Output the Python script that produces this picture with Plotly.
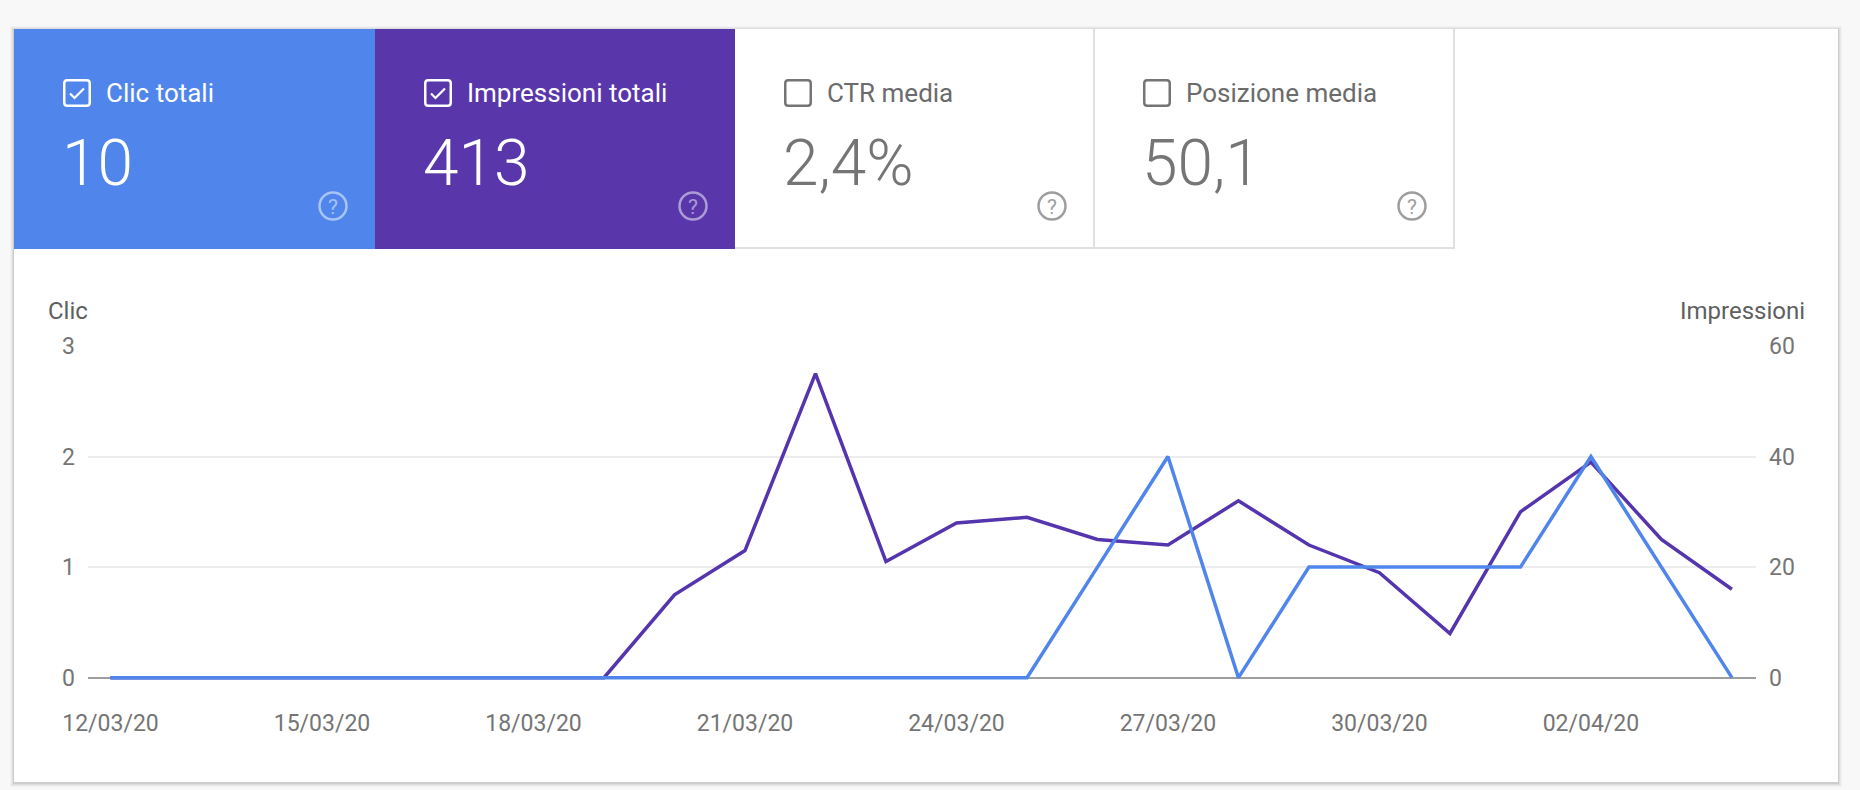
import plotly.graph_objects as go

# daily data, 12/03/20 .. 04/04/20
dates = ["2020-03-12", "2020-03-13", "2020-03-14", "2020-03-15", "2020-03-16",
         "2020-03-17", "2020-03-18", "2020-03-19", "2020-03-20", "2020-03-21",
         "2020-03-22", "2020-03-23", "2020-03-24", "2020-03-25", "2020-03-26",
         "2020-03-27", "2020-03-28", "2020-03-29", "2020-03-30", "2020-03-31",
         "2020-04-01", "2020-04-02", "2020-04-03", "2020-04-04"]
clicks = [0, 0, 0, 0, 0, 0, 0, 0, 0, 0, 0, 0, 0, 0,
          1, 2, 0, 1, 1, 1, 1, 2, 1, 0]
impressions = [0, 0, 0, 0, 0, 0, 0, 0,
               15, 23, 55, 21, 28, 29, 25, 24, 32, 24, 19, 8, 30, 39, 25, 16]

clic_ticks = [0, 1, 2, 3]
impr_ticks = [0, 20, 40, 60]

tab_labels = ["Clic totali", "Impressioni totali", "CTR media", "Posizione media"]
tab_values = ["10", "413", "2,4%", "50,1"]
tab_checked = [True, True, False, False]

BLUE = "#5086ec"
PURPLE = "#5937aa"
PURPLE_LINE = "#5535ad"
tab_colors = [BLUE, PURPLE, "white", "white"]

W, H = 1860, 790
L, R, T, B = 88, 104, 346, 109


def px(x):
    return (x - L) / (W - L - R)


def py(y):
    return (H - B - y) / (H - T - B)


def rect(x0, y0, x1, y1, fill, line=None, lw=0):
    return dict(type="rect", xref="paper", yref="paper", layer="below",
                x0=px(x0), x1=px(x1), y0=py(y1), y1=py(y0),
                fillcolor=fill, line=dict(color=line or fill, width=lw))


def seg(x0, y0, x1, y1, color, lw):
    return dict(type="line", xref="paper", yref="paper", layer="below",
                x0=px(x0), x1=px(x1), y0=py(y0), y1=py(y1),
                line=dict(color=color, width=lw))


def path(points, color, lw):
    d = ""
    for cmd, pts in points:
        d += cmd + " " + " ".join("%.5f,%.5f" % (px(a), py(b)) for a, b in pts) + " "
    return dict(type="path", xref="paper", yref="paper", layer="below",
                path=d.strip(), line=dict(color=color, width=lw))


def checkbox(left, top, color, checked):
    s, r, k = 28, 3, 1.25
    x0, y0, x1, y1 = left + k, top + k, left + s - k, top + s - k
    out = [path([("M", [(x0 + r, y0)]), ("L", [(x1 - r, y0)]),
                 ("Q", [(x1, y0), (x1, y0 + r)]), ("L", [(x1, y1 - r)]),
                 ("Q", [(x1, y1), (x1 - r, y1)]), ("L", [(x0 + r, y1)]),
                 ("Q", [(x0, y1), (x0, y1 - r)]), ("L", [(x0, y0 + r)]),
                 ("Q", [(x0, y0), (x0 + r, y0)]), ("Z", [])], color, 2.5)]
    if checked:
        out.append(path([("M", [(left + 7, top + 14.5)]),
                         ("L", [(left + 11.5, top + 19)]),
                         ("L", [(left + 21, top + 9.5)])], color, 2.2))
    return out


shapes = []
# card shadow and card
for grow, alpha in [(4, 0.025), (3, 0.035), (2, 0.05), (1, 0.07)]:
    shapes.append(rect(14 - grow, 29 - grow + 1, 1838 + grow, 782 + grow + 1,
                       "rgba(0,0,0,%.3f)" % alpha))
shapes.append(rect(14, 29, 1838, 782, "white"))

annotations = []
tab_left = [14, 375, 735, 1094]
tab_right = [375, 735, 1094, 1454]
for i in range(4):
    x0, x1 = tab_left[i], tab_right[i]
    colored = tab_colors[i] != "white"
    if colored:
        shapes.append(rect(x0, 29, x1, 249, tab_colors[i]))
        fg, val_c, icon_c = "white", "white", "rgba(255,255,255,0.5)"
    else:
        shapes.append(seg(x0, 248, x1, 248, "#e0e0e0", 2))
        shapes.append(seg(x1, 29, x1, 249, "#e0e0e0", 2))
        fg, val_c, icon_c = "#6b6b6b", "#757575", "#9e9e9e"
    shapes += checkbox(x0 + 49, 79, fg if colored else "#757575", tab_checked[i])
    annotations.append(dict(x=px(x0 + 90), y=py(93), xref="paper", yref="paper",
                            text=tab_labels[i], showarrow=False, xanchor="left",
                            yanchor="middle",
                            font=dict(family="Roboto", size=26, color=fg)))
    annotations.append(dict(x=px(x0 + 46), y=py(164), xref="paper", yref="paper",
                            text=tab_values[i], showarrow=False, xanchor="left",
                            yanchor="middle",
                            font=dict(family="Roboto", size=64, color=val_c,
                                      weight=300)))
    cx, cy, rr = x1 - 42, 206, 13.5
    shapes.append(dict(type="circle", xref="paper", yref="paper", layer="below",
                       x0=px(cx - rr), x1=px(cx + rr), y0=py(cy + rr), y1=py(cy - rr),
                       line=dict(color=icon_c, width=2.5)))
    annotations.append(dict(x=px(cx), y=py(cy + 1), xref="paper", yref="paper",
                            text="?", showarrow=False, xanchor="center",
                            yanchor="middle",
                            font=dict(family="Roboto", size=21, color=icon_c)))

annotations.append(dict(x=px(46), y=py(311), xref="paper", yref="paper",
                        text="Clic", showarrow=False, xanchor="left", yanchor="middle",
                        font=dict(family="Roboto", size=24, color="#5f5f5f")))
annotations.append(dict(x=px(1807), y=py(311), xref="paper", yref="paper",
                        text="Impressioni", showarrow=False, xanchor="right",
                        yanchor="middle",
                        font=dict(family="Roboto", size=24, color="#5f5f5f")))

fig = go.Figure()
# impressions on the base axis (right side), clicks on the overlaying left axis
# so that the blue line is drawn on top
fig.add_trace(go.Scatter(x=dates, y=impressions, name="Impressioni",
                         mode="lines", line=dict(color=PURPLE_LINE, width=3.5)))
fig.add_trace(go.Scatter(x=dates, y=clicks, name="Clic", yaxis="y2", mode="lines",
                         line=dict(color=BLUE, width=3.5)))

tick_font = dict(family="Roboto", size=23, color="#757575")
fig.update_layout(
    width=W, height=H, autosize=False,
    margin=dict(l=L, r=R, t=T, b=B, pad=0),
    paper_bgcolor="#f8f8f8", plot_bgcolor="rgba(0,0,0,0)",
    showlegend=False,
    font=dict(family="Roboto"),
    shapes=shapes, annotations=annotations,
    xaxis=dict(type="date", range=["2020-03-11 16:20", "2020-04-04 08:12"],
               tick0="2020-03-12", dtick=3 * 86400000, tickformat="%d/%m/%y",
               showgrid=False, zeroline=False, showline=False, ticks="",
               tickfont=tick_font, ticklabelstandoff=26),
    yaxis=dict(range=[-0.6, 60], tickvals=impr_ticks, side="right",
               showgrid=True, gridcolor="#ececec", gridwidth=2, zeroline=True,
               zerolinecolor="#9e9e9e", zerolinewidth=2, showline=False,
               ticks="", tickfont=tick_font, ticklabelstandoff=12),
    yaxis2=dict(range=[-0.03, 3], tickvals=clic_ticks, overlaying="y",
                side="left", showgrid=False, zeroline=False, showline=False,
                ticks="", tickfont=tick_font, ticklabelstandoff=12),
)

fig.write_html("out.html", config={"displayModeBar": False},
               post_script="document.body.style.margin='0';"
                           "document.body.style.background='#f8f8f8';")
